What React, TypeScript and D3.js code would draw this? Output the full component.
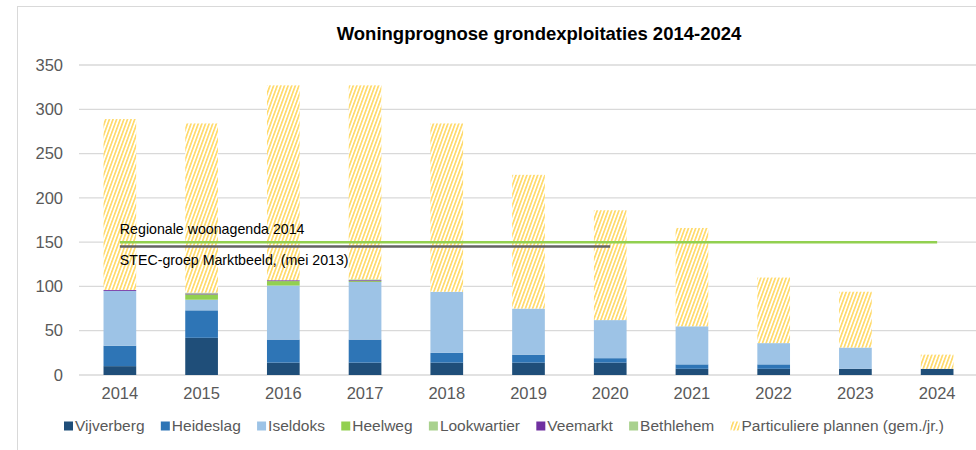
import * as d3 from 'd3';
import { useEffect, useRef } from 'react';

const years = ['2014', '2015', '2016', '2017', '2018', '2019', '2020', '2021', '2022', '2023', '2024'];

const vijverberg = [10, 42, 14, 14, 14, 14, 14, 7, 7, 7, 7];
const heideslag = [23, 31, 26, 26, 11, 9, 5, 5, 5, 0, 0];
const iseldoks = [62, 12, 61, 65, 69, 52, 43, 43, 24, 24, 0];
const heelweg = [0, 6, 5, 1, 0, 0, 0, 0, 0, 0, 0];
const lookwartier = [0, 0, 0, 0, 0, 0, 0, 0, 0, 0, 0];
const veemarkt = [1, 1, 1, 1, 0, 0, 0, 0, 0, 0, 0];
const bethlehem = [0, 1, 0, 1, 0, 0, 0, 0, 0, 0, 0];
const particuliere = [193, 191, 220, 219, 190, 151, 124, 111, 74, 63, 16];

// reference lines
const regionaleWoonagenda = [150, 150, 150, 150, 150, 150, 150, 150, 150, 150, 150];
const stecMarktbeeld = [145, 145, 145, 145, 145, 145, 145];

const yTicks = [0, 50, 100, 150, 200, 250, 300, 350];

const series = [
  { name: 'Vijverberg', values: vijverberg, color: '#1F4E79' },
  { name: 'Heideslag', values: heideslag, color: '#2E75B6' },
  { name: 'Iseldoks', values: iseldoks, color: '#9DC3E6' },
  { name: 'Heelweg', values: heelweg, color: '#92D050' },
  { name: 'Lookwartier', values: lookwartier, color: '#A9D18E' },
  { name: 'Veemarkt', values: veemarkt, color: '#7030A0' },
  { name: 'Bethlehem', values: bethlehem, color: '#A9D18E' },
  { name: 'Particuliere plannen (gem./jr.)', values: particuliere, color: 'url(#hatch)' },
];

const W = 976;
const H = 450;
const FONT = "'Liberation Sans', Arial, sans-serif";

function App() {
  const svgElement = useRef<SVGSVGElement | null>(null);

  useEffect(() => {
    const svg = d3.select(svgElement.current);
    svg.selectAll('*').remove();

    const defs = svg.append('defs');
    const pat = defs
      .append('pattern')
      .attr('id', 'hatch')
      .attr('patternUnits', 'userSpaceOnUse')
      .attr('width', 3.4)
      .attr('height', 6)
      .attr('patternTransform', 'rotate(20)');
    pat.append('rect').attr('width', 3.4).attr('height', 6).attr('fill', '#fff');
    pat.append('rect').attr('width', 1.6).attr('height', 6).attr('fill', '#FFD966');

    // frame
    svg
      .append('rect')
      .attr('x', 17.5)
      .attr('y', 6.5)
      .attr('width', W)
      .attr('height', H + 20)
      .attr('fill', '#fff')
      .attr('stroke', '#D9D9D9');

    const x = d3.scaleBand<string>().domain(years).range([79, 978]).paddingInner(0.6).paddingOuter(0.3);
    const y = d3.scaleLinear().domain([0, 350]).range([375, 65]);

    // title
    svg
      .append('text')
      .attr('x', 539)
      .attr('y', 40)
      .attr('text-anchor', 'middle')
      .style('font-family', FONT)
      .style('font-size', '18.5px')
      .style('font-weight', 'bold')
      .text('Woningprognose grondexploitaties 2014-2024');

    // grid
    svg
      .append('g')
      .selectAll('line')
      .data(yTicks)
      .join('line')
      .attr('x1', 79)
      .attr('x2', W)
      .attr('y1', (d) => y(d))
      .attr('y2', (d) => y(d))
      .attr('stroke', '#D9D9D9')
      .attr('stroke-width', 1.3);

    // y axis labels
    const yAxis = svg
      .append('g')
      .attr('transform', 'translate(79,0)')
      .call(d3.axisLeft(y).tickValues(yTicks).tickSize(0).tickPadding(16));
    yAxis.select('.domain').remove();
    yAxis
      .selectAll('text')
      .attr('fill', '#595959')
      .style('font-family', FONT)
      .style('font-size', '16.5px');

    // x axis labels
    const xAxis = svg
      .append('g')
      .attr('transform', 'translate(0,375)')
      .call(d3.axisBottom(x).tickSize(0).tickPadding(12));
    xAxis.select('.domain').remove();
    xAxis
      .selectAll('text')
      .attr('fill', '#595959')
      .style('font-family', FONT)
      .style('font-size', '16.5px');

    // stacked bars
    const rows = years.map((yr, i) => {
      const row: Record<string, number | string> = { year: yr };
      series.forEach((s) => (row[s.name] = s.values[i]));
      return row;
    });
    const stack = d3.stack<Record<string, number | string>>().keys(series.map((s) => s.name));
    const layers = stack(rows);

    svg
      .append('g')
      .selectAll('g')
      .data(layers)
      .join('g')
      .attr('fill', (_, i) => series[i].color)
      .selectAll('rect')
      .data((d) => d.filter((p) => p[1] - p[0] > 0))
      .join('rect')
      .attr('x', (d) => x(d.data.year as string) ?? 0)
      .attr('width', x.bandwidth())
      .attr('y', (d) => y(d[1]))
      .attr('height', (d) => y(d[0]) - y(d[1]));

    // reference lines
    const cx = (i: number) => (x(years[i]) ?? 0) + x.bandwidth() / 2;
    const line = d3
      .line<number>()
      .x((_, i) => cx(i))
      .y((d) => y(d));

    svg
      .append('path')
      .attr('d', line(regionaleWoonagenda))
      .attr('fill', 'none')
      .attr('stroke', '#92D050')
      .attr('stroke-width', 2.5);
    svg
      .append('path')
      .attr('d', line(stecMarktbeeld))
      .attr('fill', 'none')
      .attr('stroke', '#636363')
      .attr('stroke-width', 2.5);

    svg
      .append('text')
      .attr('x', cx(0))
      .attr('y', y(regionaleWoonagenda[0]) - 8)
      .style('font-family', FONT)
      .style('font-size', '14.2px')
      .text('Regionale woonagenda 2014');
    svg
      .append('text')
      .attr('x', cx(0))
      .attr('y', y(stecMarktbeeld[0]) + 18)
      .style('font-family', FONT)
      .style('font-size', '14.2px')
      .text('STEC-groep Marktbeeld, (mei 2013)');

    // legend
    const legend = svg.append('g');
    const items = legend
      .selectAll('g')
      .data(series)
      .join('g');
    items
      .append('rect')
      .attr('width', 9)
      .attr('height', 9)
      .attr('y', 421.5)
      .attr('fill', (d) => d.color);
    items
      .append('text')
      .attr('x', 11)
      .attr('y', 431)
      .attr('fill', '#595959')
      .style('font-family', FONT)
      .style('font-size', '15.5px')
      .text((d) => d.name);

    const widths: number[] = [];
    items.each(function () {
      const t = d3.select(this).select('text').node() as SVGTextElement;
      widths.push(11 + t.getComputedTextLength());
    });
    const left = 64;
    const right = 944;
    const gap = (right - left - d3.sum(widths)) / (widths.length - 1);
    let pos = left;
    items.attr('transform', (_, i) => {
      const tx = pos;
      pos += widths[i] + gap;
      return `translate(${tx},0)`;
    });
  }, []);

  return (
    <svg
      ref={svgElement}
      width={W}
      height={H}
      style={{ position: 'absolute', left: 0, top: 0, background: '#fff' }}
    />
  );
}

export default App;
